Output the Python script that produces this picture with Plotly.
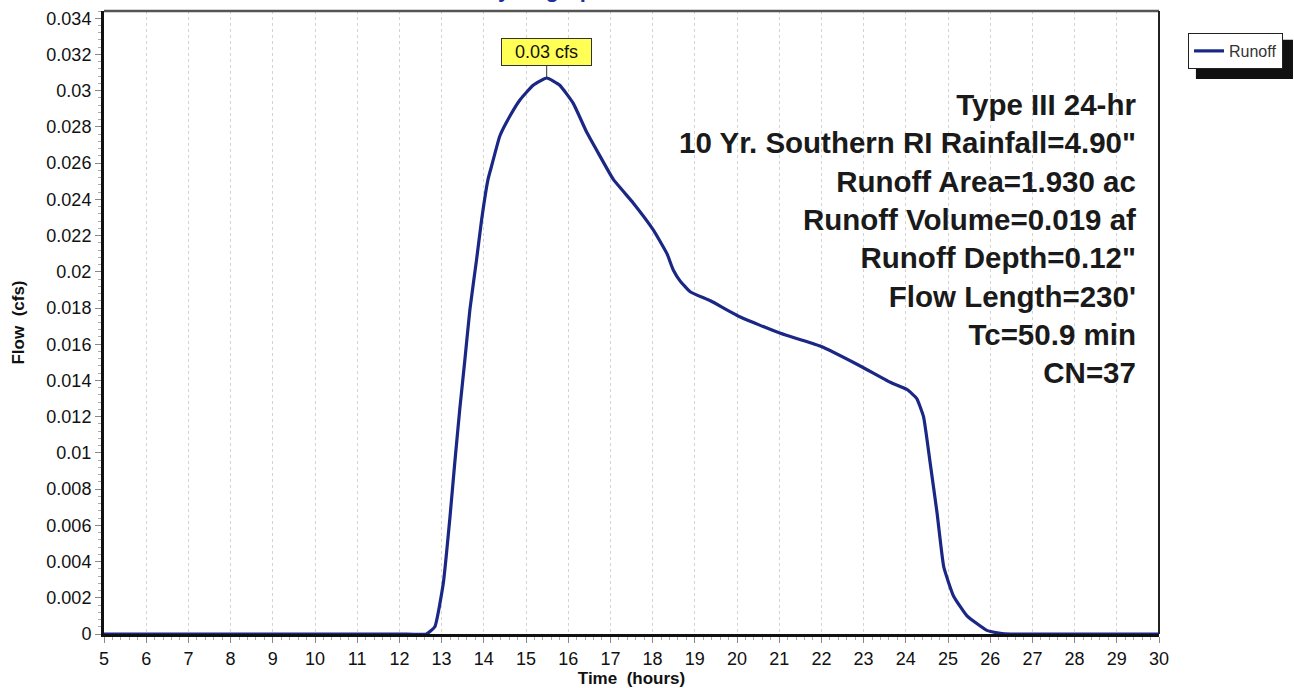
import plotly.graph_objects as go

time_hr = [5.0, 12.0, 12.64, 12.84, 13.04, 13.20, 13.31, 13.43, 13.55, 13.67, 13.83, 13.95,
           14.10, 14.18, 14.38, 14.62, 14.86, 15.17, 15.49, 15.80, 16.12, 16.44, 16.75,
           17.07, 17.54, 18.02, 18.34, 18.49, 18.65, 18.89, 19.37, 20.08, 21.03, 21.97,
           22.92, 23.63, 24.03, 24.26, 24.42, 24.58, 24.74, 24.90, 25.13, 25.45, 25.92,
           26.24, 26.48, 30.0]
flow_cfs = [0.0, 0.0, 0.0, 0.0004, 0.0028, 0.0065, 0.0094, 0.0124, 0.0151, 0.0179, 0.0207, 0.0229,
            0.0251, 0.0258, 0.0275, 0.0286, 0.0295, 0.0303, 0.0307, 0.0303, 0.0293, 0.0277, 0.0264,
            0.0251, 0.0238, 0.0223, 0.0210, 0.0201, 0.0195, 0.0189, 0.0184, 0.0175, 0.0166, 0.0159,
            0.0148, 0.0139, 0.0135, 0.0130, 0.0120, 0.0094, 0.0067, 0.0037, 0.0021, 0.0010, 0.0002,
            0.00004, 0.0, 0.0]

peak_time = 15.49
peak_flow = 0.0307
peak_label = "0.03 cfs"

x_ticks = list(range(5, 31))
y_ticks = [i * 0.002 for i in range(18)]
y_tick_labels = ["0"] + [f"{v:.3f}".rstrip("0") for v in y_ticks[1:]]

info_lines = ["Type III 24-hr",
              "10 Yr. Southern RI Rainfall=4.90\"",
              "Runoff Area=1.930 ac",
              "Runoff Volume=0.019 af",
              "Runoff Depth=0.12\"",
              "Flow Length=230'",
              "Tc=50.9 min",
              "CN=37"]

FONT = "Arial, Liberation Sans, sans-serif"
LINE_COLOR = "#1a2784"

fig = go.Figure()
fig.add_trace(go.Scatter(x=time_hr, y=flow_cfs, mode="lines", name="Runoff",
                         line=dict(color=LINE_COLOR, width=3.2, shape="spline", smoothing=0.4)))

fig.update_layout(
    width=1294, height=688,
    margin=dict(l=104, r=135, t=11, b=54),
    paper_bgcolor="white", plot_bgcolor="white",
    font=dict(family=FONT, size=18, color="#222"),
    showlegend=True,
    legend=dict(x=1.0275, y=0.9647, xanchor="left", yanchor="top",
                bgcolor="white", bordercolor="#222", borderwidth=1,
                font=dict(size=16, color="#333"), itemwidth=30,
                tracegroupgap=0),
    xaxis=dict(range=[5, 30], tickvals=x_ticks, ticktext=[str(v) for v in x_ticks],
               automargin=False,
               showgrid=True, gridcolor="#d2d2d2", griddash="dot", gridwidth=1,
               ticks="outside", ticklen=6, tickcolor="#888", tickwidth=1,
               minor=dict(dtick=0.2, ticks="outside", ticklen=3, tickcolor="#aaa", showgrid=False),
               showline=True, linecolor="#111", linewidth=3, zeroline=False,
               title=dict(text="<b>Time\u00a0 (hours)</b>", font=dict(size=17, color="#111"), standoff=4),
               tickfont=dict(size=18, color="#111")),
    yaxis=dict(range=[0, 0.0344], tickvals=y_ticks, ticktext=y_tick_labels,
               automargin=False,
               showgrid=False, zeroline=False,
               ticks="outside", ticklen=6, tickcolor="#888", tickwidth=1,
               minor=dict(dtick=0.0004, ticks="outside", ticklen=3, tickcolor="#aaa", showgrid=False),
               showline=True, linecolor="#111", linewidth=3,
               title=dict(text="<b>Flow\u00a0 (cfs)</b>", font=dict(size=17, color="#111"), standoff=18),
               tickfont=dict(size=18, color="#111")),
)

# Top and right frame lines
fig.add_shape(type="line", xref="paper", yref="paper", x0=0, x1=1, y0=1, y1=1,
              line=dict(color="#555", width=2.5))
fig.add_shape(type="line", xref="paper", yref="paper", x0=1, x1=1, y0=0, y1=1,
              line=dict(color="#222", width=2))

# Legend drop shadow (right and bottom strips)
fig.add_shape(type="rect", xref="paper", yref="paper",
              x0=1.0350, x1=1.1270, y0=0.8910, y1=0.9540,
              fillcolor="#111", line=dict(width=0), layer="above")

# Peak label
fig.add_annotation(x=peak_time, y=peak_flow, text="\u00a0\u00a0" + peak_label + "\u00a0\u00a0",
                   showarrow=True,
                   arrowhead=0, arrowwidth=1, arrowcolor="#333", ax=0, ay=-26,
                   bgcolor="#ffff55", bordercolor="#333", borderwidth=1, borderpad=3,
                   font=dict(size=18, color="#111"))

# Info text block
fig.add_annotation(xref="paper", yref="paper", x=0.980, y=0.880, xanchor="right", yanchor="top",
                   align="right", showarrow=False,
                   text="<br>".join(f"<b>{s}</b>" for s in info_lines),
                   font=dict(size=29.5, color="#1a1a1a"))

# Chart title (mostly cut off at the top edge)
fig.add_annotation(xref="paper", yref="paper", x=0.418, y=1.0115, xanchor="center", yanchor="bottom",
                   showarrow=False, text="<b>Hydrograph</b>",
                   font=dict(size=22, color="#1f2fa0"))

fig.write_html("out.html")
